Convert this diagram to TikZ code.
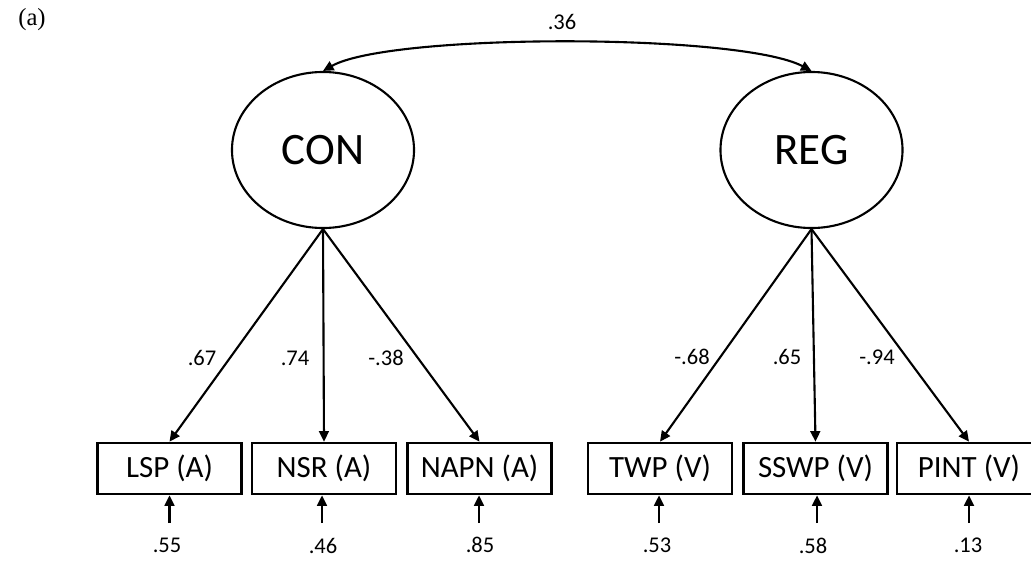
\documentclass[tikz,border=0pt]{standalone}
\usepackage{fontspec}
\setmainfont{Carlito}
\newfontfamily\serifpanel{Liberation Serif}
\usetikzlibrary{arrows.meta,shapes.geometric}
\tikzset{
	latent/.style={draw, ellipse, line width=1.5pt, minimum width=4.55cm, minimum height=3.9cm, inner sep=0pt, font=\fontsize{32}{32}\selectfont},
	observed/.style={draw, rectangle, line width=1.9pt, minimum width=3.6cm, minimum height=1.275cm, inner sep=0pt, font=\fontsize{22}{22}\selectfont},
	coef/.style={inner sep=0pt, font=\fontsize{16}{16}\selectfont},
	path/.style={line width=1.5pt, -{Triangle[length=7.5pt,width=7pt]}},
}

\begin{document}
\begin{tikzpicture}[x=0.025cm, y=-0.025cm]
			%%%%% START %%%%%
			\clip (0, 0) rectangle (1031, 560);
			
			\node[inner sep=0pt, font=\serifpanel\fontsize{17.5}{17.5}\selectfont] (panel) at (32, 20) {(a)};
			
			\node[latent] (con) at (323, 150) {CON};
			\node[latent] (reg) at (811.5, 150) {REG};
			
			\draw[line width=1.5pt, {Triangle[length=7.5pt,width=7pt]}-{Triangle[length=7.5pt,width=7pt]}] (con.north) .. controls (390, 33) and (740, 33) .. (reg.north);
			\node[coef] (r36) at (562, 22) {.36};
			
			\node[observed] (lsp) at (169.5, 468.5) {LSP (A)};
			\node[observed] (nsr) at (324, 468.5) {NSR (A)};
			\node[observed] (napn) at (479.5, 468.5) {NAPN (A)};
			\node[observed] (twp) at (660, 468.5) {TWP (V)};
			\node[observed] (sswp) at (815.5, 468.5) {SSWP (V)};
			\node[observed] (pint) at (969, 468.5) {PINT (V)};
			
			\draw[path] (con.south) -- (lsp.north);
			\draw[path] (con.south) -- (nsr.north);
			\draw[path] (con.south) -- (napn.north);
			\draw[path] (reg.south) -- (twp.north);
			\draw[path] (reg.south) -- (sswp.north);
			\draw[path] (reg.south) -- (pint.north);
			
			\node[coef] (l1) at (202, 358) {.67};
			\node[coef] (l2) at (295, 358) {.74};
			\node[coef] (l3) at (386, 358) {-.38};
			\node[coef] (l4) at (692, 357) {-.68};
			\node[coef] (l5) at (787, 357) {.65};
			\node[coef] (l6) at (877, 357) {-.94};
			
			% residuals
			\coordinate (e1) at (169.5, 523);
			\coordinate (e2) at (322, 523);
			\coordinate (e3) at (479, 523);
			\coordinate (e4) at (659, 523);
			\coordinate (e5) at (817, 523);
			\coordinate (e6) at (969, 523);
			\draw[path] (e1) -- (e1 |- lsp.south);
			\draw[path] (e2) -- (e2 |- nsr.south);
			\draw[path] (e3) -- (e3 |- napn.south);
			\draw[path] (e4) -- (e4 |- twp.south);
			\draw[path] (e5) -- (e5 |- sswp.south);
			\draw[path] (e6) -- (e6 |- pint.south);
			
			\node[coef] (d1) at (167, 545) {.55};
			\node[coef] (d2) at (323, 546) {.46};
			\node[coef] (d3) at (480, 545) {.85};
			\node[coef] (d4) at (657, 545) {.53};
			\node[coef] (d5) at (813, 546) {.58};
			\node[coef] (d6) at (968, 545) {.13};
			%%%%% END %%%%%
		\end{tikzpicture}
\end{document}
